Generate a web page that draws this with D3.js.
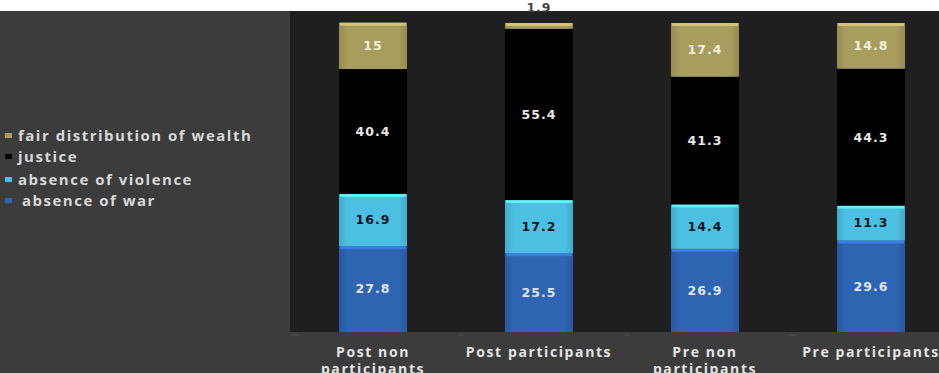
<!DOCTYPE html>
<html>
<head>
<meta charset="utf-8">
<script src="https://cdn.jsdelivr.net/npm/d3@7"></script>
<style>
    body { margin: 0; background: #ffffff; }
    svg { display: block; }
</style>
</head>
<body>
<div id="chart"></div>
<script>
    // chart values
    const categories = ["Post non participants", "Post participants", "Pre non participants", "Pre participants"];
    const categoryLines = [["Post non", "participants"], ["Post participants"], ["Pre non", "participants"], ["Pre participants"]];
    const seriesNames = ["absence of war", "absence of violence", "justice", "fair distribution of wealth"];
    const absenceOfWar = [27.8, 25.5, 26.9, 29.6];
    const absenceOfViolence = [16.9, 17.2, 14.4, 11.3];
    const justice = [40.4, 55.4, 41.3, 44.3];
    const fairDistribution = [15, 1.9, 17.4, 14.8];

    const width = 939, height = 373;
    const plot = { left: 290, top: 11, bottom: 332, right: 954 };

    const colors = {
        "absence of war": "#2f64b3",
        "absence of violence": "#4cbfe3",
        "justice": "#000000",
        "fair distribution of wealth": "#a89c5e"
    };
    const labelColors = {
        "absence of war": "#dfe6f2",
        "absence of violence": "#0b1520",
        "justice": "#e6e6e6",
        "fair distribution of wealth": "#f2efdc"
    };

    const svg = d3.select("#chart").append("svg")
        .attr("width", width)
        .attr("height", height);

    // backgrounds
    svg.append("rect").attr("x", 0).attr("y", plot.top).attr("width", width).attr("height", height - plot.top)
        .style("fill", "#3c3c3c");
    svg.append("rect").attr("x", plot.left).attr("y", plot.top).attr("width", width - plot.left)
        .attr("height", plot.bottom - plot.top)
        .style("fill", "#1f1f1f");

    const table = categories.map((c, i) => ({
        category: c,
        "absence of war": absenceOfWar[i],
        "absence of violence": absenceOfViolence[i],
        "justice": justice[i],
        "fair distribution of wealth": fairDistribution[i]
    }));

    const stack = d3.stack().keys(seriesNames);
    const series = stack(table);

    const xScale = d3.scaleBand()
        .domain(categories)
        .range([plot.left, plot.right])
        .paddingInner(0.59)
        .paddingOuter(0.295);

    const yScale = d3.scaleLinear()
        .domain([0, 100])
        .range([plot.bottom, 23]);

    // gradients to give segments a slightly rounded look
    const defs = svg.append("defs");
    seriesNames.forEach((name, i) => {
        const base = d3.color(colors[name]);
        const g = defs.append("linearGradient").attr("id", "grad" + i)
            .attr("x1", "0").attr("x2", "1").attr("y1", "0").attr("y2", "0");
        g.append("stop").attr("offset", "0%").attr("stop-color", base.darker(0.35));
        g.append("stop").attr("offset", "12%").attr("stop-color", base);
        g.append("stop").attr("offset", "88%").attr("stop-color", base);
        g.append("stop").attr("offset", "100%").attr("stop-color", base.darker(0.35));
    });

    const layer = svg.selectAll(".layer")
        .data(series)
        .enter().append("g")
        .attr("class", "layer");

    layer.each(function (s, si) {
        const name = s.key;
        const g = d3.select(this);

        g.selectAll("rect.seg")
            .data(s)
            .enter().append("rect")
            .attr("class", "seg")
            .attr("x", d => xScale(d.data.category))
            .attr("y", d => yScale(d[1]))
            .attr("width", xScale.bandwidth())
            .attr("height", d => yScale(d[0]) - yScale(d[1]))
            .style("fill", name === "justice" ? "#000" : "url(#grad" + si + ")");

        // light top rim on coloured segments
        if (name !== "justice") {
            g.selectAll("rect.rim")
                .data(s)
                .enter().append("rect")
                .attr("class", "rim")
                .attr("x", d => xScale(d.data.category) + 1)
                .attr("y", d => yScale(d[1]))
                .attr("width", xScale.bandwidth() - 2)
                .attr("height", d => Math.min(3, yScale(d[0]) - yScale(d[1])))
                .style("fill", d3.color(colors[name]).brighter(0.8))
                .style("opacity", 0.8);
        }

        g.selectAll("text.val")
            .data(s)
            .enter().append("text")
            .attr("class", "val")
            .attr("x", d => xScale(d.data.category) + xScale.bandwidth() / 2)
            .attr("y", d => {
                const h = yScale(d[0]) - yScale(d[1]);
                return h < 14 ? yScale(d[1]) - 15 : (yScale(d[0]) + yScale(d[1])) / 2;
            })
            .attr("dy", "0.35em")
            .attr("text-anchor", "middle")
            .style("font-family", "'DejaVu Sans', sans-serif")
            .style("font-weight", "bold")
            .style("font-size", "12.5px")
            .style("letter-spacing", "1px")
            .style("fill", d => (yScale(d[0]) - yScale(d[1]) < 14) ? "#444" : labelColors[name])
            .text(d => d[1] - d[0] === Math.round(d[1] - d[0]) ? (d[1] - d[0]).toFixed(0) : (d[1] - d[0]).toFixed(1));
    });

    // faint ticks at the band boundaries
    const step = xScale.step();
    categories.forEach((c, i) => {
        const x0 = plot.left + i * step;
        svg.append("line")
            .attr("x1", x0 + 2).attr("x2", x0 + 8)
            .attr("y1", plot.bottom + 3).attr("y2", plot.bottom + 3)
            .style("stroke", "#555").style("stroke-width", 1);
    });

    // category labels (second line runs off the bottom, as in the original)
    categories.forEach((c, i) => {
        const cx = xScale(c) + xScale.bandwidth() / 2;
        const t = svg.append("text")
            .attr("x", cx)
            .attr("y", 357)
            .attr("text-anchor", "middle")
            .style("font-family", "'Open Sans', sans-serif")
            .style("font-weight", "bold")
            .style("font-size", "14px")
            .style("letter-spacing", "1.6px")
            .style("fill", "#e4e4e4");
        categoryLines[i].forEach((line, li) => {
            t.append("tspan").attr("x", cx).attr("dy", li === 0 ? 0 : 17).text(line);
        });
    });

    // legend (top entry is the top stacked series)
    const legendOrder = seriesNames.slice().reverse();
    const legendY = [136, 157, 180, 201];
    const legend = svg.selectAll(".legend")
        .data(legendOrder)
        .enter().append("g")
        .attr("class", "legend")
        .attr("transform", (d, i) => `translate(0,${legendY[i]})`);

    legend.append("rect")
        .attr("x", 5).attr("y", -3)
        .attr("width", 7).attr("height", 5)
        .style("fill", d => d === "justice" ? "#000" : colors[d]);

    legend.append("text")
        .attr("x", d => d === "absence of war" ? 22 : 18)
        .attr("y", 0)
        .attr("dy", "0.35em")
        .style("font-family", "'Open Sans', sans-serif")
        .style("font-weight", "bold")
        .style("font-size", "15px")
        .style("letter-spacing", "1.5px")
        .style("fill", "#d8d8d8")
        .text(d => d);
</script>
</body>
</html>
